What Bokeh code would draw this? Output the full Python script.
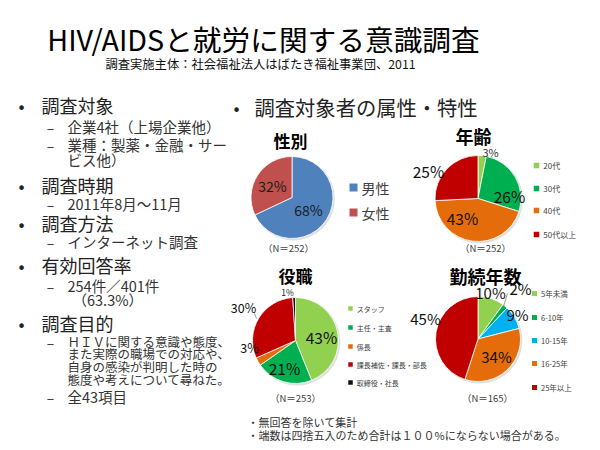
from bokeh.plotting import figure
from bokeh.models import Range1d
from bokeh.core.properties import value
from bokeh.embed import file_html
from bokeh.resources import INLINE
import numpy as np

FONT = "Noto Sans CJK JP"

# ---------------- data ----------------
title_text = "HIV/AIDSと就労に関する意識調査"
subtitle_text = "調査実施主体：社会福祉法人はばたき福祉事業団、2011"
section_text = "調査対象者の属性・特性"

gender_title = "性別"
gender_labels = ["男性", "女性"]
gender_pct = [68, 32]
gender_n = 252

age_title = "年齢"
age_labels = ["20代", "30代", "40代", "50代以上"]
age_pct = [3, 26, 43, 25]
age_n = 252

pos_title = "役職"
pos_labels = ["スタッフ", "主任・主査", "係長", "課長補佐・課長・部長", "取締役・社長"]
pos_pct = [43, 21, 3, 30, 1]
pos_n = 253

ten_title = "勤続年数"
ten_labels = ["5年未満", "6-10年", "10-15年", "16-25年", "25年以上"]
ten_pct = [10, 2, 9, 34, 45]
ten_n = 165

bullet_items = ["調査対象", "調査時期", "調査方法", "有効回答率", "調査目的"]
sub_items = ["企業4社（上場企業他）", "業種：製薬・金融・サー", "2011年8月～11月",
             "インターネット調査", "254件／401件", "ＨＩＶに関する意識や態度、", "全43項目"]
cont_items = ["ビス他）", "（63.3%）", "また実際の職場での対応や、", "自身の感染が判明した時の",
              "態度や考えについて尋ねた。"]
notes = ["・無回答を除いて集計", "・端数は四捨五入のため合計は１００%にならない場合がある。"]

# ---------------- colours ----------------
C_LG, C_G, C_O, C_R, C_K, C_B = "#92D050", "#00B050", "#E46C0A", "#C00000", "#111111", "#00B0F0"
gender_colors = ["#4F81BD", "#C0504D"]
age_colors = [C_LG, C_G, C_O, C_R]
pos_colors = [C_LG, C_G, C_O, C_R, C_K]
ten_colors = [C_LG, C_G, C_B, C_O, C_R]

p = figure(width=592, height=446, x_range=Range1d(0, 592), y_range=Range1d(4, 450),
           output_backend="svg", toolbar_location=None, min_border=0,
           x_axis_location=None, y_axis_location=None)
p.grid.visible = False
p.outline_line_color = None
p.background_fill_color = "white"


def Y(py):
    return 450 - py


def txt(xs, ys, texts, size, color="#000000", align="left", style="normal", baseline="middle"):
    p.text(x=list(xs), y=[Y(v) for v in ys], text=list(texts), text_font=value(FONT),
           text_font_size=f"{size}px", text_color=color, text_align=align,
           text_baseline=baseline, text_font_style=style)


def pie(cx, cy, r, vals, colors):
    v = np.array(vals, float)
    c = np.concatenate([[0.0], np.cumsum(v / v.sum())])
    start = np.pi / 2 - 2 * np.pi * c[1:]
    end = np.pi / 2 - 2 * np.pi * c[:-1]
    p.circle(x=cx + 1.5, y=Y(cy + 1.5), radius=r + 0.5, fill_color="#000000",
             fill_alpha=0.12, line_color=None)
    p.wedge(x=[cx] * len(v), y=[Y(cy)] * len(v), radius=r, start_angle=list(start),
            end_angle=list(end), fill_color=colors, line_color="white", line_width=0.8)


def legend(x, ys, labels, colors, size, sq, color="#404040"):
    p.scatter(x=[x] * len(ys), y=[Y(v) for v in ys], marker="square", size=sq,
              fill_color=colors, line_color=None)
    txt([x + sq * 0.5 + 4] * len(ys), ys, labels, size, color=color)


def pct(vals):
    return [f"{v}%" for v in vals]


# ---------------- titles ----------------
txt([263], [38], [title_text], 28.7, align="center")
txt([260], [63], [subtitle_text], 12.3, align="center", color="#111111")

# ---------------- left column ----------------
txt([21] * 5, [104, 184, 222, 264, 322], ["•"] * 5, 18, color="#222222", align="center")
txt([41] * 5, [104, 184, 222, 264, 322], bullet_items, 18, color="#222222")
sub_y = [126, 144, 203, 241, 285, 341, 396]
txt([50] * 7, sub_y, ["–"] * 7, 14, color="#333333", align="center")
txt([67] * 5, sub_y[:5], sub_items[:5], 14.5, color="#333333")
txt([67], [sub_y[5]], [sub_items[5]], 12.5, color="#333333")
txt([67], [sub_y[6]], [sub_items[6]], 14.5, color="#333333")
txt([67, 72], [159, 299], cont_items[:2], 14.5, color="#333333")
txt([67] * 3, [353, 366, 379], cont_items[2:], 12.5, color="#333333")

# ---------------- right header ----------------
txt([236], [106], ["•"], 18, color="#222222", align="center")
txt([254], [106], [section_text], 20.3, color="#222222")

# ---------------- 性別 ----------------
pie(291.5, 197, 41, gender_pct, gender_colors)
txt([290], [140], [gender_title], 17, style="bold", align="center")
txt([308, 272], [209, 185], pct(gender_pct), 14, color="#1a1a1a", align="center")
legend(353, [187, 212], gender_labels, gender_colors, 14, 8, color="#404040")
txt([288], [247], [f"（N＝{gender_n}）"], 9.5, color="#404040", align="center")

# ---------------- 年齢 ----------------
pie(477.5, 198, 43, age_pct, age_colors)
txt([473], [135], [age_title], 18, style="bold", align="center")
txt([490], [151], pct(age_pct[:1]), 11, color="#333333", align="center")
txt([509, 462, 428], [195, 217, 170], pct(age_pct[1:]), 15.5, color="#111111", align="center")
legend(536, [165, 188, 210, 234], age_labels, age_colors, 8, 5.5)
txt([485], [247], [f"（N＝{age_n}）"], 9.5, color="#404040", align="center")

# ---------------- 役職 ----------------
pie(295, 340, 43, pos_pct, pos_colors)
txt([295], [275], [pos_title], 17, style="bold", align="center")
txt([321, 284], [336, 367], pct(pos_pct[:2]), 15.5, color="#111111", align="center")
txt([249, 243], [347, 307], pct(pos_pct[2:4]), 12.5, color="#111111", align="center")
txt([287], [291], pct(pos_pct[4:]), 8.5, color="#222222", align="center")
p.segment(x0=[254], y0=[Y(313)], x1=[256], y1=[Y(318)], line_color="#808080", line_width=0.8)
legend(350, [308, 327, 346, 364, 382], pos_labels, pos_colors, 7, 4.5)
txt([295], [397], [f"（N＝{pos_n}）"], 9.5, color="#404040", align="center")

# ---------------- 勤続年数 ----------------
pie(477.5, 338.5, 42.5, ten_pct, ten_colors)
txt([485], [275], [ten_title], 18, style="bold", align="center")
txt([490, 520, 517, 496, 425], [292, 288, 314, 356, 318], pct(ten_pct), 15, color="#111111",
    align="center")
p.segment(x0=[507], y0=[Y(293)], x1=[503], y1=[Y(306)], line_color="#808080", line_width=0.8)
legend(534, [293, 317, 340, 363, 387], ten_labels, ten_colors, 7.5, 5)
txt([487], [397], [f"（N＝{ten_n}）"], 9.5, color="#404040", align="center")

# ---------------- notes ----------------
txt([247, 247], [421, 434], notes, 11, color="#333333")

open("out.html", "w").write(file_html(p, INLINE))
